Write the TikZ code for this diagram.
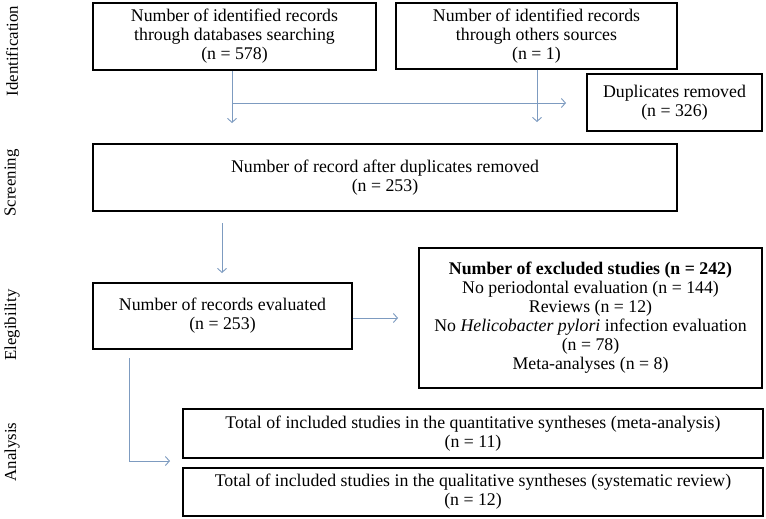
\documentclass[tikz,border=0pt]{standalone}
\usepackage{fontspec}
\setmainfont{Liberation Serif}
\usetikzlibrary{arrows.meta}
\definecolor{conncol}{RGB}{125,155,192}
\tikzset{
  box/.style={draw=black, line width=1.6pt, align=center, inner sep=0pt,
    font=\fontsize{17.8}{19}\selectfont},
  conn/.style={draw=conncol, line width=0.9pt, -{Straight Barb[length=4pt,width=9pt,line width=0.9pt]}},
  side/.style={rotate=90, font=\fontsize{16.8}{19}\selectfont}
}
\begin{document}
\begin{tikzpicture}[x=1pt,y=-1pt]
\useasboundingbox (0,0) rectangle (766,519);
% boxes
\node[box, minimum width=283pt, minimum height=67pt] (b1) at (234.5,36.5)
  {Number of identified records\\through databases searching\\(n = 578)};
\node[box, minimum width=281pt, minimum height=66pt] (b2) at (536.5,36)
  {Number of identified records\\through others sources\\(n = 1)};
\node[box, minimum width=175pt, minimum height=57pt] (dup) at (674.5,102.5)
  {Duplicates removed\\(n = 326)};
\node[box, minimum width=584pt, minimum height=67pt] (scr) at (385,177.5)
  {Number of record after duplicates removed\\(n = 253)};
\node[box, minimum width=259pt, minimum height=66pt] (ev) at (222.5,316)
  {Number of records evaluated\\(n = 253)};
\node[box, minimum width=343pt, minimum height=140pt] (ex) at (590.5,318)
  {\textbf{Number of excluded studies (n = 242)}\\No periodontal evaluation (n = 144)\\Reviews (n = 12)\\No \textit{Helicobacter pylori} infection evaluation\\(n = 78)\\Meta-analyses (n = 8)};
\node[box, minimum width=580pt, minimum height=49pt] (qt) at (473,433.5)
  {Total of included studies in the quantitative syntheses (meta-analysis)\\(n = 11)};
\node[box, minimum width=580pt, minimum height=48pt] (ql) at (473,492)
  {Total of included studies in the qualitative syntheses (systematic review)\\(n = 12)};
% side labels
\node[side] (s1) at (12,51) {Identification};
\node[side] (s2) at (12,183) {Screening};
\node[side] (s3) at (12,325) {Elegibility};
\node[side] (s4) at (12,452) {Analysis};
% connector points
\coordinate (a1) at (232,123);
\coordinate (h1s) at (232,103);
\coordinate (h1e) at (566,103);
\coordinate (a2) at (537,122);
\coordinate (a3s) at (222,223);
\coordinate (a3) at (222,273);
\coordinate (a4) at (398,318);
\coordinate (a5s) at (129,358);
\coordinate (a5) at (170,461);
% connectors
\draw[conn] (b1.south -| a1) -- (a1);
\draw[conn] (h1s) -- (h1e);
\draw[conn] (b2.south -| a2) -- (a2);
\draw[conn] (a3s) -- (a3);
\draw[conn] (ev.east |- a4) -- (a4);
\draw[conn] (a5s) |- (a5);
\end{tikzpicture}
\end{document}
